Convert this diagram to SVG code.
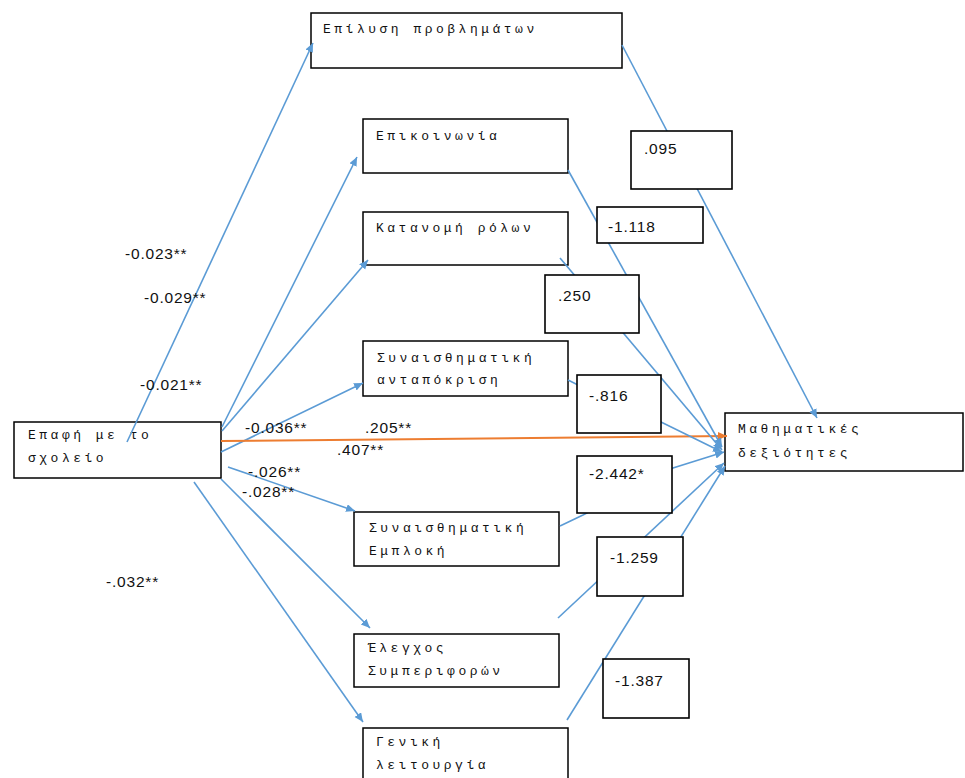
<svg xmlns="http://www.w3.org/2000/svg" width="965" height="778" viewBox="0 0 965 778">
<style>
.node{fill:#fff;stroke:#000;stroke-width:1.5}
.vbox{fill:#fff;stroke:#000;stroke-width:1.6}
.nt{font-family:"Liberation Mono","DejaVu Sans Mono",monospace;font-size:13px;letter-spacing:3.5px;fill:#111}
.lt{font-family:"Liberation Sans","DejaVu Sans",sans-serif;font-size:15.5px;letter-spacing:0.8px;fill:#111}
.c{fill:none;stroke:#5B9BD5;stroke-width:1.6}
.o{fill:none;stroke:#ED7D31;stroke-width:2}
</style>
<defs>
<marker id="ab" markerUnits="userSpaceOnUse" markerWidth="10" markerHeight="10" refX="9" refY="4" orient="auto"><path d="M0,0 L9,4 L0,8 z" fill="#5B9BD5"/></marker>
<marker id="ao" markerUnits="userSpaceOnUse" markerWidth="10" markerHeight="10" refX="9" refY="4" orient="auto"><path d="M0,0 L9,4 L0,8 z" fill="#ED7D31"/></marker>
</defs>
<rect width="965" height="778" fill="#fff"/>
<g id="n-epafi"><rect class="node" x="14" y="422" width="207" height="56"/><text class="nt" x="28" y="439">Επαφή με το</text><text class="nt" x="28" y="462">σχολείο</text></g>
<g id="n-epilysi"><rect class="node" x="311" y="13" width="311" height="55"/><text class="nt" x="323" y="33">Επίλυση προβλημάτων</text></g>
<g id="n-epikoinonia"><rect class="node" x="363" y="119" width="205" height="54"/><text class="nt" x="376" y="140">Επικοινωνία</text></g>
<g id="n-katanomi"><rect class="node" x="363" y="212" width="205" height="53"/><text class="nt" x="376" y="232">Κατανομή ρόλων</text></g>
<g id="n-antapokrisi"><rect class="node" x="363" y="341" width="205" height="55"/><text class="nt" x="377" y="362">Συναισθηματική</text><text class="nt" x="377" y="384">ανταπόκριση</text></g>
<g id="n-math"><rect class="node" x="725" y="413" width="238" height="58"/><text class="nt" x="738" y="433">Μαθηματικές</text><text class="nt" x="738" y="457">δεξιότητες</text></g>
<g id="n-emploki"><rect class="node" x="354" y="512" width="205" height="54"/><text class="nt" x="369" y="532">Συναισθηματική</text><text class="nt" x="369" y="555">Εμπλοκή</text></g>
<g id="n-elegxos"><rect class="node" x="354" y="634" width="205" height="53"/><text class="nt" x="368" y="652">Έλεγχος</text><text class="nt" x="368" y="675">Συμπεριφορών</text></g>
<g id="n-geniki"><rect class="node" x="363" y="728" width="205" height="60"/><text class="nt" x="376" y="746">Γενική</text><text class="nt" x="376" y="769">λειτουργία</text></g>
<g id="connectors">
<line class="c" x1="127" y1="442" x2="313" y2="43" marker-end="url(#ab)"/>
<line class="c" x1="222" y1="427" x2="357" y2="157" marker-end="url(#ab)"/>
<line class="c" x1="222" y1="431" x2="368" y2="260" marker-end="url(#ab)"/>
<line class="c" x1="221" y1="452" x2="363" y2="383" marker-end="url(#ab)"/>
<line class="o" x1="221" y1="441" x2="727" y2="436" marker-end="url(#ao)"/>
<line class="c" x1="228" y1="467" x2="355" y2="511" marker-end="url(#ab)"/>
<line class="c" x1="221" y1="479" x2="370" y2="628" marker-end="url(#ab)"/>
<line class="c" x1="194" y1="482" x2="363" y2="722" marker-end="url(#ab)"/>
<line class="c" x1="622" y1="45" x2="817" y2="418" marker-end="url(#ab)"/>
<line class="c" x1="568" y1="170" x2="722" y2="447" marker-end="url(#ab)"/>
<line class="c" x1="560" y1="258" x2="722" y2="450" marker-end="url(#ab)"/>
<polyline class="c" points="568,380 580,386 661,422 722,452" marker-end="url(#ab)"/>
<polyline class="c" points="560,526 583,515 673,468 724,452" marker-end="url(#ab)"/>
<line class="c" x1="558" y1="618" x2="724" y2="463" marker-end="url(#ab)"/>
<line class="c" x1="567" y1="720" x2="725" y2="466" marker-end="url(#ab)"/>
</g>
<g id="labels">
<rect class="vbox" x="631" y="131" width="101" height="58"/><text class="lt" x="644" y="154">.095</text>
<rect class="vbox" x="597" y="207" width="106" height="36"/><text class="lt" x="608" y="232">-1.118</text>
<rect class="vbox" x="545" y="275" width="94" height="58"/><text class="lt" x="558" y="301">.250</text>
<rect class="vbox" x="577" y="375" width="84" height="58"/><text class="lt" x="589" y="401">-.816</text>
<rect class="vbox" x="577" y="456" width="95" height="57"/><text class="lt" x="589" y="479">-2.442*</text>
<rect class="vbox" x="597" y="537" width="86" height="59"/><text class="lt" x="610" y="563">-1.259</text>
<rect class="vbox" x="603" y="659" width="86" height="59"/><text class="lt" x="615" y="686">-1.387</text>
<text class="lt" x="125" y="259">-0.023**</text>
<text class="lt" x="144" y="303">-0.029**</text>
<text class="lt" x="140" y="390">-0.021**</text>
<text class="lt" x="245" y="433">-0.036**</text>
<text class="lt" x="365" y="433">.205**</text>
<text class="lt" x="337" y="455">.407**</text>
<text class="lt" x="248" y="477">-.026**</text>
<text class="lt" x="242" y="497">-.028**</text>
<text class="lt" x="106" y="587">-.032**</text>
</g>
</svg>
